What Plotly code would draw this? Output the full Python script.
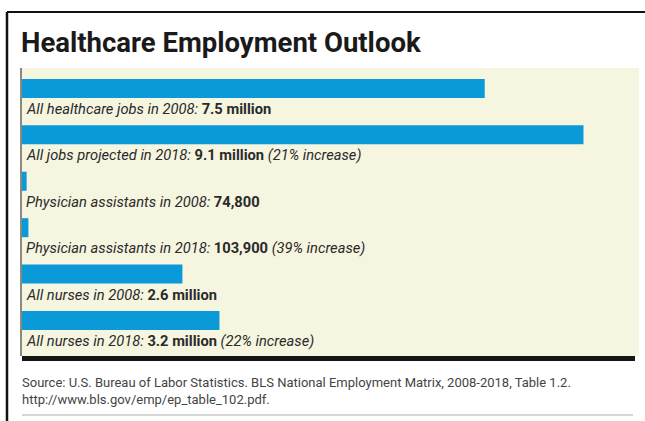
import plotly.graph_objects as go

# Employment figures, in millions of jobs
categories = [
    "All healthcare jobs in 2008",
    "All jobs projected in 2018",
    "Physician assistants in 2008",
    "Physician assistants in 2018",
    "All nurses in 2008",
    "All nurses in 2018",
]
values_millions = [7.5, 9.1, 0.0748, 0.1039, 2.6, 3.2]
value_labels = ["7.5 million", "9.1 million", "74,800", "103,900", "2.6 million", "3.2 million"]
change_labels = ["", "(21% increase)", "", "(39% increase)", "", "(22% increase)"]

W, H = 645, 421
ML, MR, MT, MB = 22, 6, 68, 65

BLUE = "#0b9ad8"
CREAM = "#f5f5e0"
TITLE_FONT = "Roboto, Liberation Sans, sans-serif"
BODY_FONT = "Roboto, Liberation Sans, sans-serif"


def px_x(p):
    """Pixel column -> paper x."""
    return (p - ML) / (W - ML - MR)


def px_y(p):
    """Pixel row (from top) -> paper y."""
    return 1 - (p - MT) / (H - MT - MB)


rows = list(range(len(categories)))

fig = go.Figure(
    go.Bar(
        x=values_millions,
        y=rows,
        orientation="h",
        width=0.41,
        marker=dict(color=BLUE, line=dict(width=0)),
        hoverinfo="skip",
    )
)

annotations = []
for i, (cat, val, chg) in enumerate(zip(categories, value_labels, change_labels)):
    text = f"<i>{cat}:</i> <b>{val}</b>"
    if chg:
        text += f" <i>{chg}</i>"
    annotations.append(
        dict(
            x=0, y=i + 0.445, xref="x", yref="y",
            xanchor="left", yanchor="middle", xshift=2,
            text=text, showarrow=False,
            font=dict(family=BODY_FONT, size=14.7, color="#2a2a2a"),
        )
    )

# Source note
annotations.append(
    dict(
        x=px_x(20), y=px_y(391), xref="paper", yref="paper",
        xanchor="left", yanchor="middle", align="left",
        text="Source: U.S. Bureau of Labor Statistics. BLS National Employment Matrix, 2008-2018, Table 1.2.<br>"
             "http://www.bls.gov/emp/ep_table_102.pdf.",
        showarrow=False,
        font=dict(family=BODY_FONT, size=13, color="#444444"),
    )
)

shapes = [
    # outer frame (top and left edges)
    dict(type="line", xref="paper", yref="paper", x0=px_x(7), x1=px_x(650), y0=px_y(12), y1=px_y(12),
         line=dict(color="#111111", width=2)),
    dict(type="line", xref="paper", yref="paper", x0=px_x(7), x1=px_x(7), y0=px_y(12), y1=px_y(430),
         line=dict(color="#111111", width=2.5)),
    # heavy rule under the panel
    dict(type="rect", xref="paper", yref="paper", x0=px_x(22), x1=px_x(635), y0=px_y(356), y1=px_y(361),
         fillcolor="#151515", line=dict(width=0)),
    # thin rule under the source note
    dict(type="line", xref="paper", yref="paper", x0=px_x(22), x1=px_x(633), y0=px_y(415), y1=px_y(415),
         line=dict(color="#b0b0b0", width=1.2)),
]

fig.update_layout(
    width=W, height=H,
    margin=dict(l=ML, r=MR, t=MT, b=MB),
    paper_bgcolor="white",
    plot_bgcolor=CREAM,
    showlegend=False,
    title=dict(
        text="<b>Healthcare Employment Outlook</b>",
        x=21 / W, y=1 - 42 / H, xref="container", yref="container",
        xanchor="left", yanchor="middle",
        font=dict(family=TITLE_FONT, size=27.5, color="#1a1a1a"),
    ),
    xaxis=dict(range=[0, 10.0], visible=False, fixedrange=True),
    yaxis=dict(
        range=[5.765, -0.44], showgrid=False, zeroline=False, showticklabels=False,
        ticks="", showline=True, linecolor="#8a8a80", linewidth=1.5, fixedrange=True,
    ),
    annotations=annotations,
    shapes=shapes,
)

fig.write_html("out.html", config={"displayModeBar": False})
